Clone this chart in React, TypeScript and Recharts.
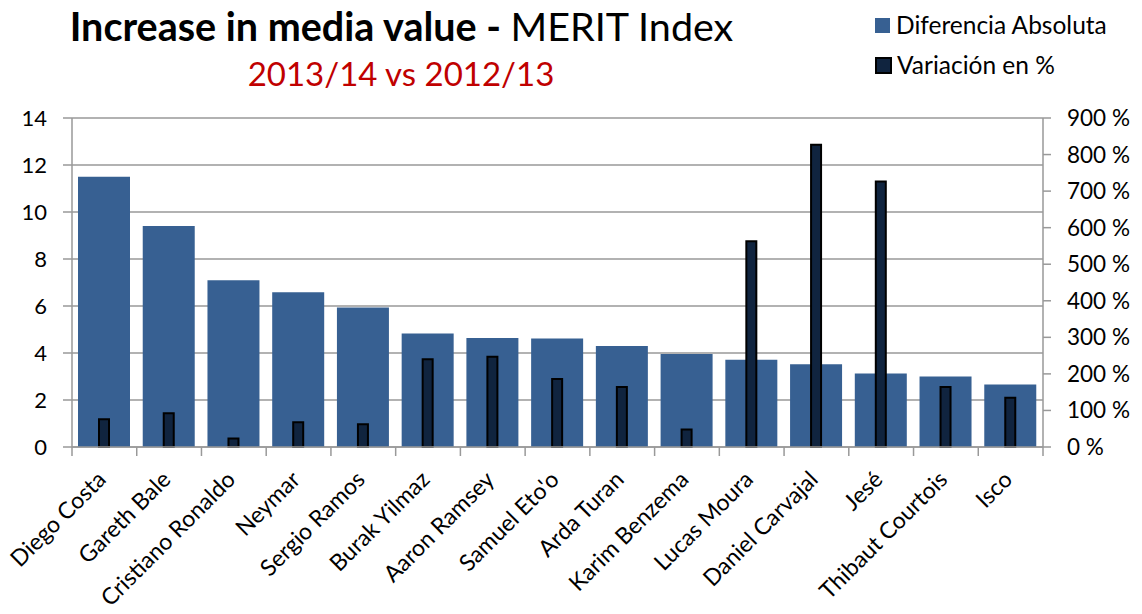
import React from 'react';
import { BarChart, Bar, XAxis, YAxis, CartesianGrid } from 'recharts';

const players = [
  'Diego Costa', 'Gareth Bale', 'Cristiano Ronaldo', 'Neymar', 'Sergio Ramos',
  'Burak Yilmaz', 'Aaron Ramsey', "Samuel Eto'o", 'Arda Turan', 'Karim Benzema',
  'Lucas Moura', 'Daniel Carvajal', 'Jesé', 'Thibaut Courtois', 'Isco',
];
const diferenciaAbsoluta = [11.5, 9.4, 7.1, 6.58, 5.94, 4.83, 4.64, 4.62, 4.3, 3.96, 3.71, 3.52, 3.13, 3.0, 2.66];
const variacionPct = [76, 92, 23, 68, 62, 240, 247, 186, 164, 48, 563, 827, 726, 164, 135];
const leftTicks = [0, 2, 4, 6, 8, 10, 12, 14];
const rightTicks = [0, 100, 200, 300, 400, 500, 600, 700, 800, 900];

const data = players.map((name, i) => ({ name, abs: diferenciaAbsoluta[i], pct: variacionPct[i] }));

const W = 1142;
const H = 614;
const PLOT_LEFT = 72;
const PLOT_RIGHT = 1043;
const PLOT_TOP = 118;
const PLOT_BOTTOM = 447;
const BAND = (PLOT_RIGHT - PLOT_LEFT) / players.length;
const FONT = 'Lato, "Open Sans", sans-serif';
const GRID = '#999999';

const CategoryTick = (props: any) => {
  const { x, y, payload, index } = props;
  const left = x - BAND / 2;
  return (
    <g>
      <line x1={left} y1={y} x2={left} y2={y + 9} stroke={GRID} strokeWidth={1.5} />
      {index === players.length - 1 && (
        <line x1={x + BAND / 2} y1={y} x2={x + BAND / 2} y2={y + 9} stroke={GRID} strokeWidth={1.5} />
      )}
      <text
        x={0}
        y={0}
        transform={`translate(${x + 3},${y + 34}) rotate(-45)`}
        textAnchor="end"
        fontSize={23}
        fontFamily={FONT}
        fill="#000"
      >
        {payload.value}
      </text>
    </g>
  );
};

export default function App() {
  return (
    <div style={{ position: 'absolute', left: 0, top: 0, width: W, height: H, background: '#fff', fontFamily: FONT, overflow: 'hidden' }}>
      <BarChart
        width={W}
        height={H}
        data={data}
        margin={{ top: PLOT_TOP, right: 0, bottom: 0, left: 0 }}
      >
        <CartesianGrid yAxisId="left" xAxisId="a" vertical={false} stroke={GRID} strokeWidth={1.5} />
        <XAxis
          xAxisId="a"
          dataKey="name"
          height={H - PLOT_BOTTOM}
          interval={0}
          tickLine={false}
          tickSize={0}
          tickMargin={0}
          axisLine={{ stroke: GRID, strokeWidth: 1.5 }}
          tick={<CategoryTick />}
        />
        <XAxis xAxisId="b" dataKey="name" hide />
        <YAxis
          yAxisId="left"
          orientation="left"
          width={PLOT_LEFT}
          domain={[0, 14]}
          ticks={leftTicks}
          interval={0}
          tickSize={9}
          tickMargin={16}
          axisLine={{ stroke: GRID, strokeWidth: 1.5 }}
          tickLine={{ stroke: GRID, strokeWidth: 1.5 }}
          tick={{ fontSize: 22, fill: '#000', fontFamily: FONT }}
        />
        <YAxis
          yAxisId="right"
          orientation="right"
          width={W - PLOT_RIGHT}
          domain={[0, 900]}
          ticks={rightTicks}
          interval={0}
          tickSize={8}
          tickMargin={16}
          tickFormatter={(v: number) => `${v} %`}
          axisLine={{ stroke: GRID, strokeWidth: 1.5 }}
          tickLine={{ stroke: GRID, strokeWidth: 1.5 }}
          tick={{ fontSize: 22.5, fill: '#000', fontFamily: FONT, textAnchor: 'start' }}
        />
        <Bar xAxisId="a" yAxisId="left" dataKey="abs" fill="#376092" barSize={52} isAnimationActive={false} />
        <Bar
          xAxisId="b"
          yAxisId="right"
          dataKey="pct"
          fill="#10243F"
          stroke="#000"
          strokeWidth={2}
          barSize={10}
          isAnimationActive={false}
        />
      </BarChart>

      <div style={{ position: 'absolute', left: 0, width: 803, top: 3, textAlign: 'center', fontSize: 39.5, lineHeight: '46px', color: '#000', whiteSpace: 'nowrap' }}>
        <span style={{ fontWeight: 700 }}>Increase in media value - </span>
        <span>MERIT Index</span>
      </div>
      <div style={{ position: 'absolute', left: 0, width: 802, top: 53, textAlign: 'center', fontSize: 33, lineHeight: '40px', color: '#C00000', whiteSpace: 'nowrap' }}>
        2013/14 vs 2012/13
      </div>

      <div style={{ position: 'absolute', left: 875, top: 10, fontSize: 24.5, lineHeight: '30px', color: '#000', whiteSpace: 'nowrap' }}>
        <div style={{ display: 'flex', alignItems: 'center', height: 30 }}>
          <span style={{ display: 'inline-block', width: 15, height: 15, background: '#376092', marginRight: 6 }} />
          Diferencia Absoluta
        </div>
        <div style={{ display: 'flex', alignItems: 'center', height: 30, marginTop: 10 }}>
          <span style={{ display: 'inline-block', width: 13, height: 13, background: '#10243F', border: '2px solid #000', marginRight: 5 }} />
          Variación en %
        </div>
      </div>
    </div>
  );
}
